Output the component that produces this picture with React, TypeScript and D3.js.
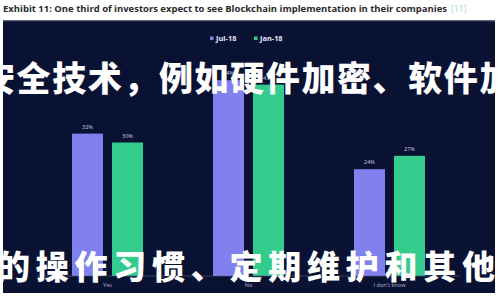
import React from "react";
import * as d3 from "d3";

const categories = ["Yes", "No", "I don't know"];
const seriesNames = ["Jul-18", "Jan-18"];
const jul18 = [32, 44, 24];
const jan18 = [30, 43, 27];
const seriesValues = [jul18, jan18];
const seriesColors = ["#8080ee", "#33cc8c"];

const titleText =
  "Exhibit 11: One third of investors expect to see Blockchain implementation in their companies";
const titleRef = "[11]";
const overlayLine1 = "安全技术，例如硬件加密、软件加密";
const overlayLine2 = "的操作习惯、定期维护和其他";

const W = 500;
const H = 300;

export default function App() {
  const x0 = d3.scaleBand<string>().domain(categories).range([37, 460]).padding(0);
  const x1 = d3
    .scaleBand<string>()
    .domain(seriesNames)
    .range([35, 106])
    .paddingInner(0.225)
    .paddingOuter(0);
  const y = d3.scaleLinear().domain([0, 50]).range([276, 53.5]);

  return (
    <svg
      width={W}
      height={H}
      style={{ position: "absolute", left: 0, top: 0, background: "#ffffff" }}
    >
      <rect x={0} y={0} width={W} height={H} fill="#ffffff" />
      <text
        x={3}
        y={11.5}
        fontFamily="'Open Sans', 'Liberation Sans', sans-serif"
        fontWeight={700}
        fontSize={8.6}
        fill="#2a2a2a"
        textLength={444}
        lengthAdjust="spacingAndGlyphs"
      >
        {titleText}
      </text>
      <text
        x={451}
        y={11.5}
        fontFamily="'Open Sans', 'Liberation Sans', sans-serif"
        fontSize={8.6}
        fill="#9fd8d2"
      >
        {titleRef}
      </text>

      <rect x={3} y={20.5} width={492} height={272.5} fill="#0a1233" />
      <line x1={3} x2={495} y1={21} y2={21} stroke="#3a4260" strokeWidth={1} />

      {/* legend */}
      {seriesNames.map((s, i) => {
        const lx = i === 0 ? 210 : 254;
        return (
          <g key={s}>
            <rect x={lx} y={36.5} width={3.5} height={3.5} fill={seriesColors[i]} />
            <text
              x={lx + 6}
              y={40.5}
              fontFamily="'Open Sans', 'Liberation Sans', sans-serif"
              fontWeight={700}
              fontSize={7.4}
              fill="#e8eaf4"
            >
              {s}
            </text>
          </g>
        );
      })}

      {/* bars and value labels */}
      {categories.map((c, ci) => (
        <g key={c} transform={`translate(${x0(c)},0)`}>
          {seriesNames.map((s, si) => {
            const v = seriesValues[si][ci];
            const bx = x1(s) as number;
            return (
              <g key={s}>
                <rect
                  x={bx}
                  y={y(v)}
                  width={x1.bandwidth()}
                  height={y(0) - y(v)}
                  fill={seriesColors[si]}
                />
                <text
                  x={bx + x1.bandwidth() / 2}
                  y={y(v) - 5}
                  textAnchor="middle"
                  fontFamily="'Open Sans', 'Liberation Sans', sans-serif"
                  fontSize={5.5}
                  fill="#c9cbe0"
                >
                  {`${v}%`}
                </text>
              </g>
            );
          })}
        </g>
      ))}

      {/* x axis */}
      <line x1={37} x2={460} y1={y(0)} y2={y(0)} stroke="#5a6080" strokeWidth={0.6} />
      {categories.map((c) => (
        <text
          key={c}
          x={(x0(c) as number) + x0.bandwidth() / 2}
          y={286.5}
          textAnchor="middle"
          fontFamily="'Open Sans', 'Liberation Sans', sans-serif"
          fontSize={5.6}
          fill="#b4b8cc"
        >
          {c}
        </text>
      ))}

      {/* overlaid caption text */}
      <text
        x={-19}
        y={91}
        fontFamily="'Noto Sans CJK SC', sans-serif"
        fontWeight={900}
        fontSize={34}
        textLength={568}
        lengthAdjust="spacing"
        fill="#ffffff"
      >
        {overlayLine1}
      </text>
      <text
        x={-3}
        y={279}
        fontFamily="'Noto Sans CJK SC', sans-serif"
        fontWeight={900}
        fontSize={33}
        textLength={498}
        lengthAdjust="spacing"
        fill="#ffffff"
      >
        {overlayLine2}
      </text>
    </svg>
  );
}
